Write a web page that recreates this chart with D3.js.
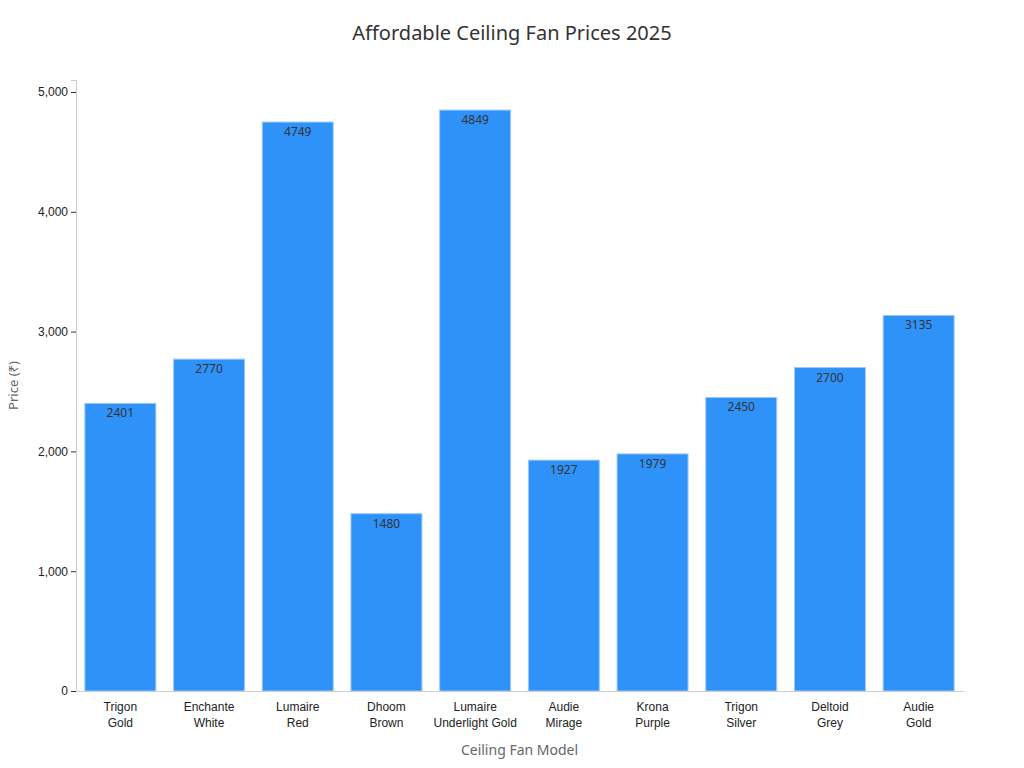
<!DOCTYPE html>
<html>
<head>
<meta charset="utf-8">
<script src="https://cdn.jsdelivr.net/npm/d3@7"></script>
<style>
  body { margin: 0; background: #fff; font-family: "Noto Sans", "DejaVu Sans", sans-serif; }
  .tick text { font-size: 12px; fill: #222; }
</style>
</head>
<body>
<div class="wrapper"></div>
<script>
const models = [
    ["Trigon", "Gold"], ["Enchante", "White"], ["Lumaire", "Red"], ["Dhoom", "Brown"],
    ["Lumaire", "Underlight Gold"], ["Audie", "Mirage"], ["Krona", "Purple"],
    ["Trigon", "Silver"], ["Deltoid", "Grey"], ["Audie", "Gold"]
]
const prices = [2401, 2770, 4749, 1480, 4849, 1927, 1979, 2450, 2700, 3135]
const yTicks = [0, 1000, 2000, 3000, 4000, 5000]

const dimensions = {
    width: 1024,
    height: 768,
    margin: { top: 80, right: 61, bottom: 77, left: 76 },
}
dimensions.boundedWidth = dimensions.width - dimensions.margin.left - dimensions.margin.right
dimensions.boundedHeight = dimensions.height - dimensions.margin.top - dimensions.margin.bottom

const wrapper = d3.select(".wrapper").append("svg")
    .attr("width", dimensions.width)
    .attr("height", dimensions.height)

const bounds = wrapper.append("g")
    .attr("transform", `translate(${dimensions.margin.left}, ${dimensions.margin.top})`)

const xScale = d3.scaleBand()
    .domain(d3.range(models.length))
    .range([0, dimensions.boundedWidth])
    .paddingInner(0.2)
    .paddingOuter(0.1)

const yScale = d3.scaleLinear()
    .domain([0, 5100])
    .range([dimensions.boundedHeight, 0])

bounds.selectAll(".bar")
    .data(prices)
    .enter().append("rect")
    .attr("class", "bar")
    .attr("x", (d, i) => xScale(i))
    .attr("y", d => yScale(d))
    .attr("width", xScale.bandwidth())
    .attr("height", d => dimensions.boundedHeight - yScale(d))
    .attr("fill", "#2f92f8")
    .attr("stroke", "#9cc9f5")
    .attr("stroke-width", 1)

bounds.selectAll(".value")
    .data(prices)
    .enter().append("text")
    .attr("x", (d, i) => xScale(i) + xScale.bandwidth() / 2)
    .attr("y", d => yScale(d) + 14)
    .attr("text-anchor", "middle")
    .attr("font-size", 12)
    .attr("fill", "#333")
    .text(d => d)

const yAxis = bounds.append("g")
    .call(d3.axisLeft(yScale).tickValues(yTicks).tickSize(5))
yAxis.select(".domain").attr("stroke", "#ccc")
yAxis.selectAll(".tick line").attr("stroke", "#333")

const xAxis = bounds.append("g")
    .attr("transform", `translate(0, ${dimensions.boundedHeight})`)
    .call(d3.axisBottom(xScale).tickSize(0).tickFormat(""))
xAxis.select(".domain").attr("stroke", "#ccc")
xAxis.selectAll(".tick").each(function (d) {
    const t = d3.select(this).append("text")
        .attr("text-anchor", "middle")
        .attr("fill", "#222")
        .attr("font-size", 12)
    t.append("tspan").attr("x", 0).attr("y", 20).text(models[d][0])
    t.append("tspan").attr("x", 0).attr("y", 36).text(models[d][1])
})

wrapper.append("text")
    .attr("x", dimensions.width / 2)
    .attr("y", 40)
    .attr("text-anchor", "middle")
    .attr("font-size", 20)
    .attr("fill", "#333")
    .text("Affordable Ceiling Fan Prices 2025")

wrapper.append("text")
    .attr("x", dimensions.margin.left + dimensions.boundedWidth / 2)
    .attr("y", 755)
    .attr("text-anchor", "middle")
    .attr("font-size", 14)
    .attr("fill", "#666")
    .text("Ceiling Fan Model")

wrapper.append("text")
    .attr("transform", `translate(18, ${dimensions.margin.top + dimensions.boundedHeight / 2}) rotate(-90)`)
    .attr("text-anchor", "middle")
    .attr("font-size", 13)
    .attr("fill", "#666")
    .text("Price (₹)")
</script>
</body>
</html>
